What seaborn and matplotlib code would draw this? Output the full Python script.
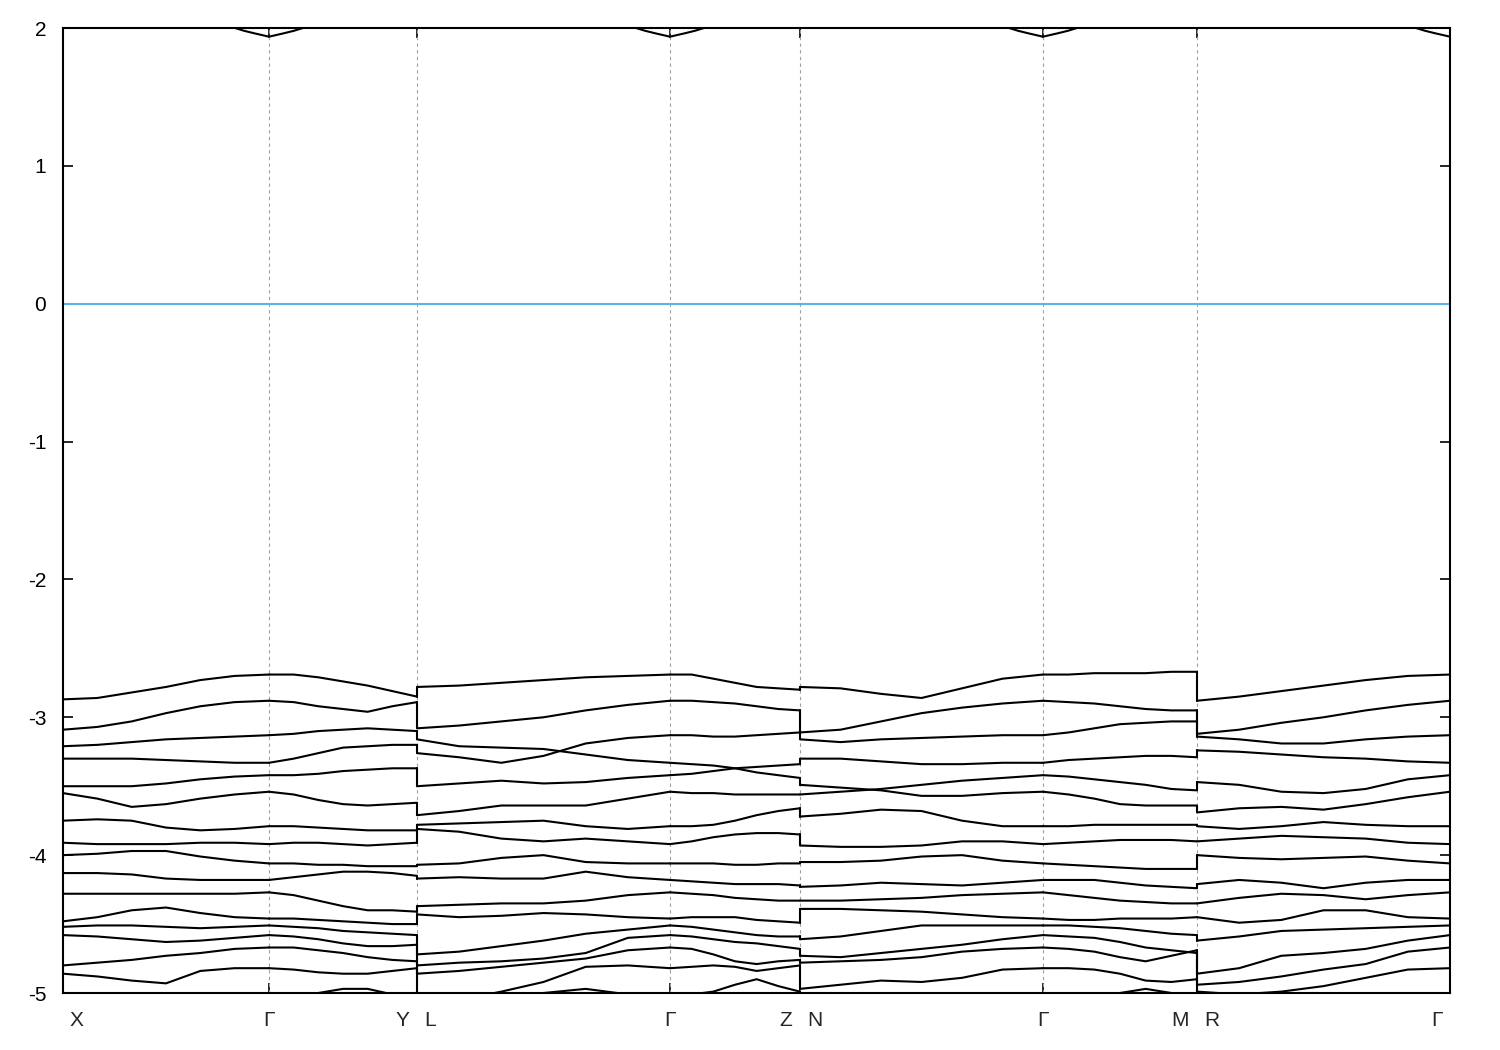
import numpy as np
import pandas as pd
import matplotlib
matplotlib.use("Agg")
import matplotlib.pyplot as plt
import seaborn as sns

# ---------------- data ----------------
# high-symmetry points along the k-path (path length units)
kpoint_pos = [0.0, 2.06, 3.54, 6.07, 7.37, 9.80, 11.34, 13.87]
# label text at each point: (left-of-point, right-of-point)
kpoint_names = [("", "X"), ("Γ", ""), ("Y", "L"), ("Γ", ""), ("Z", "N"),
                ("Γ", ""), ("M", "R"), ("Γ", "")]
# segments: (start index, end index) in kpoint_pos
segments = [(0, 1), (1, 2), (2, 3), (3, 4), (4, 5), (5, 6), (6, 7)]
# discontinuities (Y|L, Z|N, M|R): pairs of segments joined by jumps
jumps = [(1, 2), (3, 4), (5, 6)]

# valence bands (eV), 7 samples along each segment
bands_XG = [
    [-2.87, -2.86, -2.82, -2.78, -2.73, -2.70, -2.69],
    [-3.09, -3.07, -3.03, -2.97, -2.92, -2.89, -2.88],
    [-3.21, -3.20, -3.18, -3.16, -3.15, -3.14, -3.13],
    [-3.30, -3.30, -3.30, -3.31, -3.32, -3.33, -3.33],
    [-3.50, -3.50, -3.50, -3.48, -3.45, -3.43, -3.42],
    [-3.55, -3.59, -3.65, -3.63, -3.59, -3.56, -3.54],
    [-3.75, -3.74, -3.75, -3.80, -3.82, -3.81, -3.79],
    [-3.91, -3.92, -3.92, -3.92, -3.91, -3.91, -3.92],
    [-4.00, -3.99, -3.97, -3.97, -4.01, -4.04, -4.06],
    [-4.13, -4.13, -4.14, -4.17, -4.18, -4.18, -4.18],
    [-4.28, -4.28, -4.28, -4.28, -4.28, -4.28, -4.27],
    [-4.48, -4.45, -4.40, -4.38, -4.42, -4.45, -4.46],
    [-4.52, -4.51, -4.51, -4.52, -4.53, -4.52, -4.51],
    [-4.58, -4.59, -4.61, -4.63, -4.62, -4.60, -4.58],
    [-4.80, -4.78, -4.76, -4.73, -4.71, -4.68, -4.67],
    [-4.86, -4.88, -4.91, -4.93, -4.84, -4.82, -4.82],
]
bands_GY = [
    [-2.69, -2.69, -2.71, -2.74, -2.77, -2.81, -2.85],
    [-2.88, -2.89, -2.92, -2.94, -2.96, -2.92, -2.89],
    [-3.13, -3.12, -3.10, -3.09, -3.08, -3.09, -3.10],
    [-3.33, -3.30, -3.26, -3.22, -3.21, -3.20, -3.20],
    [-3.42, -3.42, -3.41, -3.39, -3.38, -3.37, -3.37],
    [-3.54, -3.56, -3.60, -3.63, -3.64, -3.63, -3.62],
    [-3.79, -3.79, -3.80, -3.81, -3.82, -3.82, -3.82],
    [-3.92, -3.91, -3.91, -3.92, -3.93, -3.92, -3.91],
    [-4.06, -4.06, -4.07, -4.07, -4.08, -4.08, -4.08],
    [-4.18, -4.16, -4.14, -4.12, -4.12, -4.13, -4.15],
    [-4.27, -4.29, -4.33, -4.37, -4.40, -4.40, -4.41],
    [-4.46, -4.46, -4.47, -4.48, -4.49, -4.50, -4.50],
    [-4.51, -4.52, -4.53, -4.55, -4.56, -4.57, -4.58],
    [-4.58, -4.59, -4.61, -4.64, -4.66, -4.66, -4.65],
    [-4.67, -4.67, -4.69, -4.71, -4.74, -4.76, -4.77],
    [-4.82, -4.83, -4.85, -4.86, -4.86, -4.84, -4.82],
    [-5.03, -5.02, -5.00, -4.97, -4.97, -5.01, -5.04],
]
bands_LG = [
    [-2.78, -2.77, -2.75, -2.73, -2.71, -2.70, -2.69],
    [-3.08, -3.06, -3.03, -3.00, -2.95, -2.91, -2.88],
    [-3.16, -3.21, -3.22, -3.23, -3.27, -3.31, -3.33],
    [-3.26, -3.29, -3.33, -3.28, -3.19, -3.15, -3.13],
    [-3.50, -3.48, -3.46, -3.48, -3.47, -3.44, -3.42],
    [-3.71, -3.68, -3.64, -3.64, -3.64, -3.59, -3.54],
    [-3.78, -3.77, -3.76, -3.75, -3.79, -3.81, -3.79],
    [-3.81, -3.83, -3.88, -3.90, -3.88, -3.90, -3.92],
    [-4.07, -4.06, -4.02, -4.00, -4.05, -4.06, -4.06],
    [-4.17, -4.16, -4.17, -4.17, -4.12, -4.16, -4.18],
    [-4.37, -4.36, -4.35, -4.35, -4.33, -4.29, -4.27],
    [-4.43, -4.45, -4.44, -4.42, -4.43, -4.45, -4.46],
    [-4.72, -4.70, -4.66, -4.62, -4.57, -4.54, -4.51],
    [-4.80, -4.78, -4.77, -4.75, -4.71, -4.60, -4.58],
    [-4.86, -4.84, -4.81, -4.78, -4.75, -4.69, -4.67],
    [-5.10, -5.05, -4.99, -4.92, -4.81, -4.80, -4.82],
    [-5.07, -5.05, -5.03, -5.00, -4.97, -5.01, -5.04],
]
bands_GZ = [
    [-2.69, -2.69, -2.72, -2.75, -2.78, -2.79, -2.80],
    [-2.88, -2.88, -2.89, -2.90, -2.92, -2.94, -2.95],
    [-3.13, -3.13, -3.14, -3.14, -3.13, -3.12, -3.11],
    [-3.33, -3.34, -3.35, -3.37, -3.40, -3.42, -3.44],
    [-3.42, -3.41, -3.39, -3.37, -3.36, -3.35, -3.34],
    [-3.54, -3.55, -3.55, -3.56, -3.56, -3.56, -3.56],
    [-3.79, -3.79, -3.78, -3.75, -3.71, -3.68, -3.66],
    [-3.92, -3.90, -3.87, -3.85, -3.84, -3.84, -3.85],
    [-4.06, -4.06, -4.06, -4.07, -4.07, -4.06, -4.06],
    [-4.18, -4.19, -4.20, -4.21, -4.21, -4.21, -4.22],
    [-4.27, -4.28, -4.29, -4.31, -4.32, -4.33, -4.33],
    [-4.46, -4.45, -4.45, -4.45, -4.47, -4.48, -4.49],
    [-4.51, -4.52, -4.54, -4.56, -4.58, -4.59, -4.59],
    [-4.58, -4.59, -4.61, -4.63, -4.64, -4.66, -4.68],
    [-4.67, -4.68, -4.72, -4.77, -4.79, -4.77, -4.76],
    [-4.82, -4.81, -4.80, -4.81, -4.84, -4.82, -4.80],
    [-5.03, -5.01, -4.99, -4.94, -4.90, -4.95, -4.99],
]
bands_NG = [
    [-2.78, -2.79, -2.83, -2.86, -2.79, -2.72, -2.69],
    [-3.11, -3.09, -3.03, -2.97, -2.93, -2.90, -2.88],
    [-3.16, -3.18, -3.16, -3.15, -3.14, -3.13, -3.13],
    [-3.30, -3.30, -3.32, -3.34, -3.34, -3.33, -3.33],
    [-3.49, -3.51, -3.53, -3.57, -3.57, -3.55, -3.54],
    [-3.56, -3.54, -3.52, -3.49, -3.46, -3.44, -3.42],
    [-3.72, -3.70, -3.67, -3.68, -3.75, -3.79, -3.79],
    [-3.93, -3.94, -3.94, -3.93, -3.90, -3.90, -3.92],
    [-4.05, -4.05, -4.04, -4.01, -4.00, -4.04, -4.06],
    [-4.23, -4.22, -4.20, -4.21, -4.22, -4.20, -4.18],
    [-4.33, -4.33, -4.32, -4.31, -4.29, -4.28, -4.27],
    [-4.39, -4.39, -4.40, -4.41, -4.43, -4.45, -4.46],
    [-4.61, -4.59, -4.55, -4.51, -4.51, -4.51, -4.51],
    [-4.73, -4.74, -4.71, -4.68, -4.65, -4.61, -4.58],
    [-4.78, -4.77, -4.76, -4.74, -4.70, -4.68, -4.67],
    [-4.97, -4.94, -4.91, -4.92, -4.89, -4.83, -4.82],
    [-5.06, -5.06, -5.05, -5.05, -5.04, -5.04, -5.03],
]
bands_GM = [
    [-2.69, -2.69, -2.68, -2.68, -2.68, -2.67, -2.67],
    [-2.88, -2.89, -2.90, -2.92, -2.94, -2.95, -2.95],
    [-3.13, -3.11, -3.08, -3.05, -3.04, -3.03, -3.03],
    [-3.33, -3.31, -3.30, -3.29, -3.28, -3.28, -3.29],
    [-3.42, -3.43, -3.45, -3.47, -3.49, -3.52, -3.53],
    [-3.54, -3.56, -3.59, -3.63, -3.64, -3.64, -3.64],
    [-3.79, -3.79, -3.78, -3.78, -3.78, -3.78, -3.78],
    [-3.92, -3.91, -3.90, -3.89, -3.89, -3.89, -3.90],
    [-4.06, -4.07, -4.08, -4.09, -4.10, -4.10, -4.10],
    [-4.18, -4.18, -4.18, -4.20, -4.22, -4.23, -4.24],
    [-4.27, -4.29, -4.31, -4.33, -4.34, -4.35, -4.35],
    [-4.46, -4.47, -4.47, -4.46, -4.46, -4.46, -4.45],
    [-4.51, -4.51, -4.52, -4.53, -4.55, -4.57, -4.58],
    [-4.58, -4.59, -4.60, -4.63, -4.67, -4.69, -4.71],
    [-4.67, -4.68, -4.70, -4.74, -4.77, -4.73, -4.69],
    [-4.82, -4.82, -4.83, -4.86, -4.91, -4.92, -4.90],
    [-5.03, -5.02, -5.01, -5.00, -4.97, -5.00, -5.03],
]
bands_RG = [
    [-2.88, -2.85, -2.81, -2.77, -2.73, -2.70, -2.69],
    [-3.12, -3.09, -3.04, -3.00, -2.95, -2.91, -2.88],
    [-3.14, -3.16, -3.19, -3.19, -3.16, -3.14, -3.13],
    [-3.24, -3.25, -3.27, -3.29, -3.30, -3.32, -3.33],
    [-3.47, -3.49, -3.54, -3.55, -3.52, -3.45, -3.42],
    [-3.69, -3.66, -3.65, -3.67, -3.63, -3.58, -3.54],
    [-3.79, -3.81, -3.79, -3.76, -3.78, -3.79, -3.79],
    [-3.90, -3.88, -3.86, -3.87, -3.88, -3.91, -3.92],
    [-4.00, -4.02, -4.03, -4.02, -4.01, -4.04, -4.06],
    [-4.21, -4.18, -4.20, -4.24, -4.20, -4.18, -4.18],
    [-4.35, -4.31, -4.28, -4.29, -4.32, -4.29, -4.27],
    [-4.45, -4.49, -4.47, -4.40, -4.40, -4.45, -4.46],
    [-4.62, -4.59, -4.55, -4.54, -4.53, -4.52, -4.51],
    [-4.86, -4.82, -4.73, -4.71, -4.68, -4.62, -4.58],
    [-4.94, -4.92, -4.88, -4.83, -4.79, -4.70, -4.67],
    [-4.99, -5.01, -4.99, -4.95, -4.89, -4.83, -4.82],
    [-5.06, -5.06, -5.05, -5.05, -5.04, -5.04, -5.03],
]
segment_bands = [bands_XG, bands_GY, bands_LG, bands_GZ, bands_NG, bands_GM, bands_RG]

# conduction band minimum around each Γ point (offset in k, energy in eV)
gamma_index = [1, 3, 5, 7]
cb_dk = [-0.50, -0.34, -0.25, -0.15, 0.0, 0.15, 0.25, 0.34, 0.50]
cb_E = [2.06, 2.00, 1.98, 1.962, 1.937, 1.962, 1.98, 2.00, 2.06]

fermi_level = 0.0
yticks = [2, 1, 0, -1, -2, -3, -4, -5]

# ---------------- build long table ----------------
rows = []
uid = 0
for (i0, i1), seg in zip(segments, segment_bands):
    ks = np.linspace(kpoint_pos[i0], kpoint_pos[i1], len(seg[0]))
    for band in seg:
        for k, e in zip(ks, band):
            rows.append((k, e, uid))
        uid += 1
# vertical jumps at discontinuous points (bands paired by energy order)
for sa, sb in jumps:
    kj = kpoint_pos[segments[sa][1]]
    ends = sorted([b[-1] for b in segment_bands[sa]], reverse=True)
    starts = sorted([b[0] for b in segment_bands[sb]], reverse=True)
    for ea, eb in zip(ends, starts):
        rows.append((kj, ea, uid))
        rows.append((kj, eb, uid))
        uid += 1
# conduction band near Γ
for gi in gamma_index:
    for dk, e in zip(cb_dk, cb_E):
        rows.append((kpoint_pos[gi] + dk, e, uid))
    uid += 1
df = pd.DataFrame(rows, columns=["k", "E", "unit"])

# ---------------- plot ----------------
sns.set_style("white")
plt.rcParams["font.family"] = ["Liberation Sans", "DejaVu Sans"]
plt.rcParams["axes.unicode_minus"] = False

fig = plt.figure(figsize=(15, 10.5), dpi=100)
ax = fig.add_axes([63 / 1500, 1 - 993 / 1050, (1450 - 63) / 1500, (993 - 28) / 1050])

for kp in kpoint_pos[1:-1]:
    ax.axvline(kp, color="#a0a0a0", lw=0.8, ls=(0, (3, 3)), zorder=1)
ax.axhline(fermi_level, color="#56b4e9", lw=1.5, zorder=2)

sns.lineplot(data=df, x="k", y="E", units="unit", estimator=None, sort=False,
             color="black", linewidth=1.5, legend=False, ax=ax, zorder=3)

ax.set_xlim(kpoint_pos[0], kpoint_pos[-1])
ax.set_ylim(-5, 2)
ax.set_yticks(yticks)
ax.set_yticklabels([str(t) for t in yticks])
ax.set_xticks(kpoint_pos)
ax.set_xticklabels([])
ax.set_xlabel("")
ax.set_ylabel("")
ax.tick_params(axis="both", which="major", direction="in", length=7.5, width=1.2,
               bottom=True, top=True, left=True, right=True,
               labelsize=15, colors="black")
ax.tick_params(axis="y", pad=12)
for s in ax.spines.values():
    s.set_linewidth(1.5)
    s.set_color("black")

for kp, (left, right) in zip(kpoint_pos, kpoint_names):
    if left and right:
        ax.annotate(left, (kp, 0), xycoords=("data", "axes fraction"),
                    xytext=(-8, -27), textcoords="offset pixels",
                    ha="right", va="center", fontsize=15)
        ax.annotate(right, (kp, 0), xycoords=("data", "axes fraction"),
                    xytext=(7, -27), textcoords="offset pixels",
                    ha="left", va="center", fontsize=15)
    elif right:
        ax.annotate(right, (kp, 0), xycoords=("data", "axes fraction"),
                    xytext=(7, -27), textcoords="offset pixels",
                    ha="left", va="center", fontsize=15)
    elif kp == kpoint_pos[-1]:
        ax.annotate(left, (kp, 0), xycoords=("data", "axes fraction"),
                    xytext=(-7, -27), textcoords="offset pixels",
                    ha="right", va="center", fontsize=15)
    else:
        ax.annotate(left, (kp, 0), xycoords=("data", "axes fraction"),
                    xytext=(0, -27), textcoords="offset pixels",
                    ha="center", va="center", fontsize=15)

fig.savefig("out.png", dpi=100, facecolor="white")
